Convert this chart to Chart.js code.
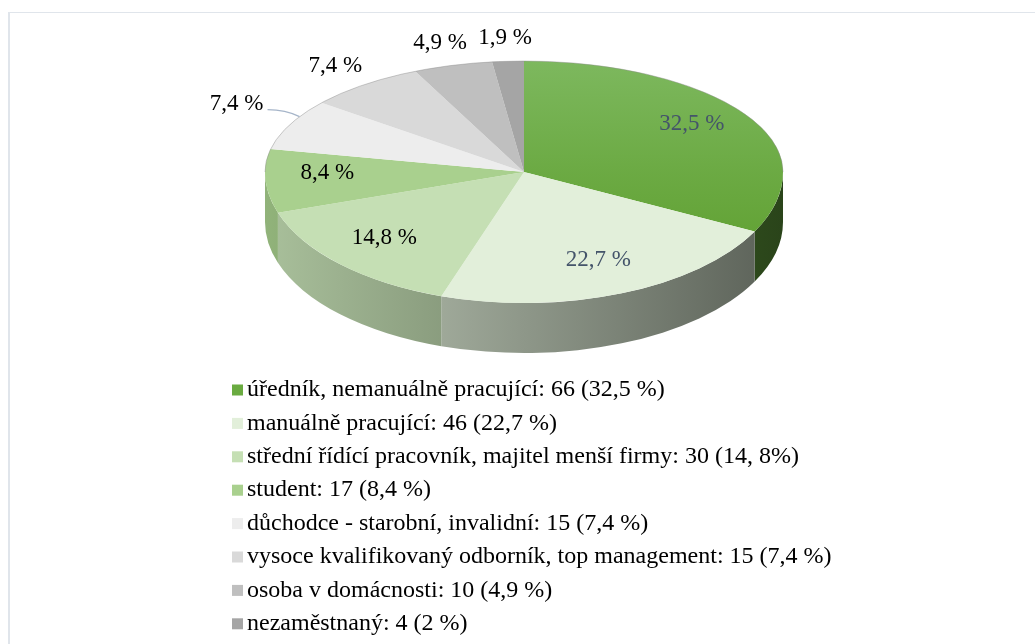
<!DOCTYPE html>
<html>
<head>
<meta charset="utf-8">
<script src="https://cdn.jsdelivr.net/npm/chart.js@4.4.1/dist/chart.umd.min.js"></script>
<style>
    html, body { margin: 0; padding: 0; background: #fff; }
    #frame {
        position: absolute; left: 8px; top: 12px; width: 1027px; height: 632px;
        border-top: 1px solid #e0e5eb; border-left: 2px solid #e0e5eb;
    }
    #wrap { position: absolute; left: 0; top: 0; width: 1035px; height: 644px; }
</style>
</head>
<body>
<div id="frame"></div>
<div id="wrap"><canvas id="occupation-chart"></canvas></div>
<script>
const categories = [
    'úředník, nemanuálně pracující',
    'manuálně pracující',
    'střední řídící pracovník, majitel menší firmy',
    'student',
    'důchodce - starobní, invalidní',
    'vysoce kvalifikovaný odborník, top management',
    'osoba v domácnosti',
    'nezaměstnaný'
];
const counts = [66, 46, 30, 17, 15, 15, 10, 4];
const sliceLabels = ['32,5 %', '22,7 %', '14,8 %', '8,4 %', '7,4 %', '7,4 %', '4,9 %', '1,9 %'];
const legendShares = ['32,5 %', '22,7 %', '14, 8%', '8,4 %', '7,4 %', '7,4 %', '4,9 %', '2 %'];
const colors = ['#6aab40', '#e2efda', '#c5dfb4', '#a9d08e', '#ededed', '#d9d9d9', '#bfbfbf', '#a5a5a5'];

// where each slice label goes: inside, outside with a leader line, or outside
const labelPlacement = ['in', 'in', 'in', 'in', 'leader', 'out', 'out', 'out'];
const labelColors = ['#44546a', '#44546a', '#000', '#000', '#000', '#000', '#000', '#000'];

// fake 3d geometry of the pie
const CX = 524, AY = 172, RX = 259, RY_TOP = 111, RY_BOT = 131, DEPTH = 50;
const LABEL_FONT = '23px "Liberation Serif", "Times New Roman", serif';
const LEGEND_FONT = '24px "Liberation Serif", "Times New Roman", serif';

function hexToRgb(hex) {
    const n = parseInt(hex.slice(1), 16);
    return [(n >> 16) & 255, (n >> 8) & 255, n & 255];
}

function shade(hex, f) {
    const c = hexToRgb(hex).map(v => Math.round(v * f));
    return `rgb(${c[0]},${c[1]},${c[2]})`;
}

function project(angle, f) {
    const s = Math.sin(angle);
    const ry = s < 0 ? RY_TOP : RY_BOT;
    return { x: CX + Math.cos(angle) * RX * f, y: AY + s * ry * f };
}

// top face colour; the big green slice gets a soft light-from-above gradient
function sliceFill(context) {
    const i = context.dataIndex;
    const area = context.chart.chartArea;
    if (i !== 0 || !area) return colors[i];
    const cy = (area.top + area.bottom) / 2;
    const r = Math.min(area.right - area.left, area.bottom - area.top) / 2;
    const grad = context.chart.ctx.createLinearGradient(0, cy - r, 0, cy + r * 0.5);
    grad.addColorStop(0, '#7db85e');
    grad.addColorStop(1, '#63a336');
    return grad;
}

function drawSides(ctx, arcs) {
    arcs.forEach((arc, i) => {
        const a = Math.max(arc.startAngle, 0);
        const b = Math.min(arc.endAngle, Math.PI);
        if (b <= a) return;
        const grad = ctx.createLinearGradient(CX - RX, 0, CX + RX, 0);
        grad.addColorStop(0, shade(colors[i], 0.86));
        grad.addColorStop(1, shade(colors[i], 0.40));
        ctx.save();
        ctx.beginPath();
        ctx.ellipse(CX, AY, RX, RY_BOT, 0, a, b);
        ctx.lineTo(CX + RX * Math.cos(b), AY + RY_BOT * Math.sin(b) + DEPTH);
        ctx.ellipse(CX, AY + DEPTH, RX, RY_BOT, 0, b, a, true);
        ctx.closePath();
        ctx.fillStyle = grad;
        ctx.fill();
        ctx.restore();
    });
}

function drawTopHalf(ctx, arcs, y0, y1, ry) {
    const first = arcs[0];
    const r = first.outerRadius;
    ctx.save();
    ctx.beginPath();
    ctx.rect(0, y0, 1035, y1 - y0);
    ctx.clip();
    ctx.translate(CX, AY);
    ctx.scale(RX / r, ry / r);
    ctx.translate(-first.x, -first.y);
    arcs.forEach(arc => arc.draw(ctx));
    ctx.restore();
}

const pie3d = {
    id: 'pie3d',
    beforeDatasetsDraw(chart) {
        const ctx = chart.ctx;
        const arcs = chart.getDatasetMeta(0).data;
        drawSides(ctx, arcs);
        drawTopHalf(ctx, arcs, 0, AY + 0.5, RY_TOP);
        drawTopHalf(ctx, arcs, AY - 0.5, 644, RY_BOT);

        ctx.save();
        ctx.beginPath();
        ctx.ellipse(CX, AY, RX, RY_TOP, 0, Math.PI, 2 * Math.PI);
        ctx.strokeStyle = 'rgba(140,140,140,0.55)';
        ctx.lineWidth = 0.8;
        ctx.stroke();
        ctx.restore();
        return false;
    },
    afterDraw(chart) {
        const ctx = chart.ctx;
        const arcs = chart.getDatasetMeta(0).data;
        ctx.save();
        ctx.font = LABEL_FONT;
        ctx.textBaseline = 'middle';
        arcs.forEach((arc, i) => {
            const mid = (arc.startAngle + arc.endAngle) / 2;
            ctx.fillStyle = labelColors[i];
            if (labelPlacement[i] === 'in') {
                const p = project(mid, 0.76);
                ctx.textAlign = 'center';
                ctx.fillText(sliceLabels[i], p.x, p.y - 4);
            } else if (labelPlacement[i] === 'leader') {
                // leader touches the rim a bit past the middle of the slice
                const p = project(mid + (arc.endAngle - mid) * 0.35, 1.0);
                const end = { x: p.x - 32, y: p.y - 7 };
                ctx.beginPath();
                ctx.moveTo(p.x, p.y);
                ctx.quadraticCurveTo(p.x - 14, end.y, end.x, end.y);
                ctx.strokeStyle = '#a6b5c9';
                ctx.lineWidth = 1.2;
                ctx.stroke();
                ctx.textAlign = 'right';
                ctx.fillText(sliceLabels[i], end.x - 4, end.y - 6);
            } else {
                const p = project(mid, 1.18);
                ctx.textAlign = 'center';
                ctx.fillText(sliceLabels[i], p.x, p.y - 3);
            }
        });

        // legend, one entry per row
        ctx.font = LEGEND_FONT;
        ctx.textAlign = 'left';
        categories.forEach((cat, i) => {
            const y = 390 + i * 33.4;
            ctx.fillStyle = colors[i];
            ctx.fillRect(232, y - 5.5, 11, 11);
            ctx.fillStyle = '#000';
            ctx.fillText(`${cat}: ${counts[i]} (${legendShares[i]})`, 247, y);
        });
        ctx.restore();
    }
};

function initChart() {
    const ctx = document.getElementById('occupation-chart').getContext('2d');
    new Chart(ctx, {
        type: 'pie',
        data: {
            labels: categories,
            datasets: [{
                data: counts,
                backgroundColor: sliceFill,
                borderWidth: 0
            }]
        },
        options: {
            responsive: true,
            maintainAspectRatio: false,
            animation: false,
            events: [],
            layout: { padding: { bottom: 120 } },
            plugins: {
                legend: { display: false },
                tooltip: { enabled: false }
            }
        },
        plugins: [pie3d]
    });
}

initChart();
</script>
</body>
</html>
